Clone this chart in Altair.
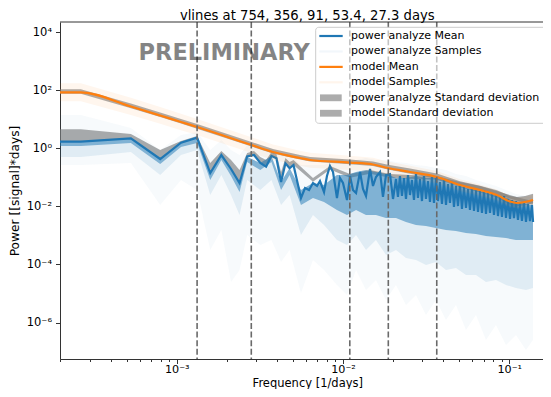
import altair as alt
import pandas as pd

# ---------------- data ----------------
periods = [754, 356, 91, 53.4, 27.3]

# model (orange)
model_freq = [1.987e-4, 2.652e-4, 5.304e-4, 7.956e-4, 1.061e-3, 1.326e-3, 2.76e-3, 3.79e-3,
              5.51e-3, 6.34e-3, 1.102e-2, 1.514e-2, 1.862e-2, 2.53e-2, 3.67e-2, 5.05e-2,
              6.67e-2, 8.43e-2, 0.1009, 0.1111, 0.1244, 0.1390]
model_mean = [84.8, 84.8, 27.5, 13.5, 8.05, 5.41, 1.35, 0.746, 0.463, 0.395, 0.324, 0.277,
              0.210, 0.153, 0.103, 0.0545, 0.0366, 0.0247, 0.0147, 0.0131, 0.0142, 0.0166]
model_std_hi = [108, 108, 35, 17.2, 10.3, 6.9, 1.72, 0.95, 0.59, 0.5, 0.41, 0.355, 0.27, 0.2,
                0.135, 0.074, 0.051, 0.036, 0.023, 0.021, 0.023, 0.027]
model_std_lo = [75, 75, 24.2, 11.9, 7.1, 4.76, 1.19, 0.66, 0.41, 0.35, 0.285, 0.244, 0.185,
                0.133, 0.089, 0.046, 0.03, 0.02, 0.0115, 0.0101, 0.011, 0.0128]
model_samp_hi = [175, 175, 55, 26.5, 15.5, 10.3, 2.5, 1.35, 0.82, 0.7, 0.56, 0.47, 0.35, 0.25,
                 0.165, 0.086, 0.057, 0.038, 0.0225, 0.02, 0.0215, 0.025]
model_samp_lo = [42, 42, 14, 7, 4.2, 2.85, 0.72, 0.4, 0.25, 0.215, 0.18, 0.155, 0.12, 0.09,
                 0.062, 0.034, 0.023, 0.016, 0.0097, 0.0087, 0.0095, 0.0111]

# power analyze mean (blue)
pa_freq = [1.987e-4, 2.652e-4, 5.304e-4, 7.956e-4, 1.061e-3, 1.326e-3, 1.591e-3, 1.856e-3,
           2.122e-3, 2.387e-3, 2.652e-3, 2.917e-3, 3.182e-3, 3.448e-3, 3.713e-3, 3.978e-3,
           4.243e-3, 4.508e-3, 4.774e-3, 5.039e-3, 5.59e-3, 5.91e-3, 6.25e-3, 6.60e-3,
           6.98e-3, 7.27e-3, 7.69e-3, 8.01e-3, 8.35e-3, 8.71e-3, 9.20e-3, 9.59e-3,
           1.00e-2, 1.057e-2, 1.102e-2, 1.148e-2, 1.198e-2, 1.266e-2, 1.319e-2, 1.375e-2,
           1.454e-2, 1.515e-2, 1.579e-2, 1.670e-2, 1.740e-2, 1.814e-2, 1.917e-2, 1.999e-2,
           2.083e-2,
           0.02141, 0.02201, 0.02263, 0.02327, 0.02392, 0.02459, 0.02528, 0.02599, 0.02672,
           0.02747, 0.02824, 0.02904, 0.02985, 0.03069, 0.03155, 0.03244, 0.03335, 0.03429,
           0.03525, 0.03624, 0.03726, 0.03830, 0.03938, 0.04048, 0.04162, 0.04279, 0.04399,
           0.04523, 0.04650, 0.04780, 0.04915, 0.05053, 0.05194, 0.05340, 0.05490, 0.05645,
           0.05803, 0.05966, 0.06134, 0.06306, 0.06483, 0.06665, 0.06852, 0.07045, 0.07242,
           0.07446, 0.07655, 0.07870, 0.08091, 0.08318, 0.08551, 0.08792, 0.09038, 0.09292,
           0.09553, 0.09821, 0.1010, 0.1038, 0.1067, 0.1097, 0.1128, 0.1159, 0.1192, 0.1225,
           0.1260, 0.1295, 0.1332, 0.1369, 0.1390]
pa_mean = [1.69, 1.69, 2.21, 0.428, 1.56, 2.32, 0.141, 0.588,
           0.194, 0.0638, 0.522, 0.588, 0.312, 0.232, 0.543, 0.453,
           0.0692, 0.304, 0.205, 0.266, 0.0195, 0.0430, 0.0366, 0.0638,
           0.0504, 0.0748, 0.0313, 0.111, 0.246, 0.153, 0.0195, 0.0949,
           0.0638, 0.0166, 0.111, 0.0366, 0.0289, 0.153, 0.0397, 0.0228,
           0.194, 0.0504, 0.1027, 0.153, 0.0211, 0.120, 0.130, 0.0180,
           0.0877,
           0.0211, 0.111, 0.0228, 0.0949, 0.0180, 0.120, 0.0247, 0.0810, 0.0166,
           0.130, 0.0195, 0.0877, 0.0153, 0.111, 0.0180, 0.0748, 0.0142, 0.1027,
           0.0131, 0.0949, 0.0153, 0.0692, 0.0121, 0.0810, 0.0112, 0.0590, 0.0131,
           0.0692, 0.00953, 0.0504, 0.0103, 0.0590, 0.00813, 0.0465, 0.0088, 0.0397,
           0.0075, 0.0430, 0.00693, 0.0366, 0.0064, 0.0339, 0.00592, 0.0366, 0.00547,
           0.0289, 0.00592, 0.0267, 0.00505, 0.0247, 0.00466, 0.0211, 0.00431, 0.0228,
           0.00398, 0.0180, 0.00368, 0.0166, 0.00398, 0.0153, 0.0034, 0.0131, 0.00314,
           0.0142, 0.0029, 0.0121, 0.00314, 0.0112, 0.0029]

# power analyze standard deviation (grey band)
pa_std_freq = [1.987e-4, 2.652e-4, 5.304e-4, 7.956e-4, 1.061e-3, 1.326e-3, 1.591e-3, 1.856e-3,
               2.122e-3, 2.387e-3, 2.652e-3, 2.917e-3, 3.182e-3, 3.448e-3, 3.713e-3, 3.978e-3,
               4.243e-3, 4.508e-3, 4.774e-3, 5.039e-3, 6.60e-3, 8.35e-3, 1.102e-2, 1.454e-2,
               1.917e-2, 2.529e-2, 3.623e-2, 5.052e-2, 6.664e-2, 8.793e-2, 0.1160, 0.1388]
pa_std_hi = [4.51, 4.51, 3.11, 0.874, 1.78, 2.65, 0.312, 0.807, 0.395, 0.179, 0.689, 0.807,
             0.501, 0.395, 0.746, 0.637, 0.153, 0.463, 0.338, 0.395, 0.0949, 0.246, 0.130,
             0.179, 0.130, 0.120, 0.111, 0.0692, 0.0504, 0.0313, 0.0195, 0.0153]
pa_std_lo = [1.69, 1.69, 2.21, 0.428, 1.56, 2.32, 0.141, 0.588, 0.194, 0.0638, 0.522, 0.588,
             0.312, 0.232, 0.543, 0.453, 0.0692, 0.304, 0.205, 0.266, 0.071, 0.185, 0.0975,
             0.134, 0.0975, 0.090, 0.083, 0.052, 0.038, 0.0235, 0.0146, 0.0115]

# power analyze samples: spread envelopes
samp_freq = [1.987e-4, 2.652e-4, 5.304e-4, 7.956e-4, 1.061e-3, 1.326e-3, 1.591e-3, 1.856e-3,
             2.122e-3, 2.387e-3, 2.652e-3, 3.182e-3, 3.713e-3, 4.243e-3, 4.774e-3, 5.59e-3,
             6.60e-3, 7.69e-3, 9.20e-3, 1.057e-2, 1.198e-2, 1.375e-2, 1.579e-2, 1.814e-2,
             2.083e-2, 2.392e-2, 2.748e-2, 3.156e-2, 3.623e-2, 4.163e-2, 4.780e-2, 5.490e-2,
             6.305e-2, 7.242e-2, 8.318e-2, 9.554e-2, 0.1097, 0.1260, 0.1388]
samp_top = [14.0, 14.0, 5.00, 0.874, 2.87, 3.64, 0.874, 1.93, 0.874, 0.588, 1.30, 0.874, 1.02,
            0.588, 0.588, 0.266, 0.266, 0.266, 0.395, 0.338, 0.395, 0.463, 0.395, 0.395, 0.338,
            0.312, 0.266, 0.246, 0.210, 0.179, 0.130, 0.111, 0.081, 0.0638, 0.0504, 0.0366,
            0.0267, 0.0228, 0.0195]
samp_core_top = [1.65, 1.65, 2.26, 0.428, 1.52, 2.26, 0.141, 0.588, 0.194, 0.0638, 0.502, 0.312,
                 0.543, 0.0692, 0.210, 0.0366, 0.0638, 0.0545, 0.120, 0.120, 0.153, 0.179, 0.153,
                 0.130, 0.0949, 0.0949, 0.111, 0.0949, 0.0949, 0.0692, 0.0545, 0.0430, 0.0366,
                 0.0289, 0.0247, 0.0195, 0.0142, 0.0121, 0.0112]
samp_dense_lo = [1.20, 1.20, 1.52, 0.288, 1.109, 1.52, 0.081, 0.395, 0.111, 0.0313, 0.338, 0.179,
                 0.338, 0.0366, 0.120, 0.0112, 0.0195, 0.0142, 0.0075, 0.00505, 0.0075, 0.00505,
                 0.00505, 0.00398, 0.00398, 0.0029, 0.00229, 0.00211, 0.0018, 0.00154, 0.00142,
                 0.00121, 0.00112, 0.000955, 0.000883, 0.000815, 0.000695, 0.000695, 0.000695]
samp_mid_lo = [0.502, 0.502, 0.746, 0.120, 0.588, 0.874, 0.0247, 0.120, 0.0247, 0.00505, 0.081,
               0.0366, 0.081, 0.0112, 0.0247, 0.00103, 0.00505, 0.00229, 0.000695, 0.000468,
               0.00103, 0.000315, 0.000695, 0.000212, 0.000315, 0.000167, 0.000143, 9.59e-5,
               0.000122, 6.45e-5, 7.57e-5, 4.34e-5, 4.34e-5, 2.49e-5, 2.92e-5, 1.96e-5, 1.55e-5,
               1.32e-5, 1.55e-5]
samp_faint_lo = [0.266, 0.266, 0.312, 0.0112, 0.081, 0.0366, 0.000315, 0.00154, 2.49e-5, 6.45e-5,
                 0.00103, 0.000468, 0.000695, 0.000122, 0.000315, 1.04e-5, 0.000143, 6.45e-5,
                 1.96e-5, 8.87e-6, 6.45e-5, 1.32e-5, 2.92e-5, 5.97e-6, 1.96e-5, 4.02e-6, 8.87e-6,
                 1.82e-6, 5.97e-6, 1.22e-6, 4.02e-6, 5.53e-7, 1.82e-6, 2.5e-7, 8.23e-7, 1.68e-7,
                 3.72e-7, 1.13e-7, 2.5e-7]

# axes ticks
x_major = [1e-3, 1e-2, 1e-1]
x_major_labels = ["10⁻³", "10⁻²", "10⁻¹"]
x_minor = [2e-4, 3e-4, 4e-4, 5e-4, 6e-4, 7e-4, 8e-4, 9e-4,
           2e-3, 3e-3, 4e-3, 5e-3, 6e-3, 7e-3, 8e-3, 9e-3,
           2e-2, 3e-2, 4e-2, 5e-2, 6e-2, 7e-2, 8e-2, 9e-2]
y_major = [1e-6, 1e-4, 1e-2, 1.0, 1e2, 1e4]
y_major_labels = ["10⁻⁶", "10⁻⁴", "10⁻²", "10⁰", "10²", "10⁴"]

legend_labels = ["power analyze Mean", "power analyze Samples", "model Mean",
                 "model Samples", "power analyze Standard deviation", "model Standard deviation"]

# ---------------- styling ----------------
BLUE = "#1f77b4"
ORANGE = "#ff7f0e"
GREY = "#808080"
FONT = "DejaVu Sans"
W, H = 483, 337   # visible plot area (the axes run off the right edge, as in the reference)

title_str = "vlines at " + ", ".join(f"{p:g}" for p in periods) + " days"


def label_expr(vals, labs):
    e = "".join(f"datum.value == {v!r} ? '{l}' : " for v, l in zip(vals, labs))
    return e + "''"


major_test = " || ".join(f"datum.value == {v!r}" for v in x_major)

xscale = alt.Scale(type="log", domain=[1.987e-4, 0.1595], nice=False)
yscale = alt.Scale(type="log", domain=[5.55e-8, 2.24e4], nice=False)

xaxis = alt.Axis(values=sorted(x_major + x_minor), labelExpr=label_expr(x_major, x_major_labels),
                 tickSize={"condition": {"test": major_test, "value": 4.5}, "value": 2.5},
                 labelFontSize=11.2, labelFont=FONT, labelColor="black",
                 labelBaseline="alphabetic", labelPadding=9, labelFlush=False,
                 labelOverlap=False, labelBound=False,
                 titleFontSize=11.5, titleFont=FONT, titleFontWeight="normal", titleColor="black",
                 titleBaseline="alphabetic", titleY=27.3, titleX=247.3, titleAlign="center",
                 grid=False, domainColor="#333333", tickColor="#333333", domainWidth=1, tickWidth=1)
yaxis = alt.Axis(values=y_major, labelExpr=label_expr(y_major, y_major_labels),
                 tickSize=4.5, labelPadding=4, labelFontSize=11.5, labelFont=FONT,
                 labelColor="black", labelBaseline="middle", labelOverlap=False, labelBound=False,
                 labelFlush=False,
                 titleFontSize=12.2, titleFont=FONT, titleFontWeight="normal", titleColor="black",
                 titleAngle=270, titleBaseline="middle", titleAlign="center", titleX=-45.5,
                 titleY=H / 2, grid=False, domainColor="#333333", tickColor="#333333",
                 domainWidth=1, tickWidth=1)
XT = "Frequency [1/days]"
YT = "Power [[signal]*days]"


def xenc():
    return alt.X("f:Q", scale=xscale, axis=xaxis, title=XT)


def yenc(field):
    return alt.Y(f"{field}:Q", scale=yscale, axis=yaxis, title=YT)


def band(df, lo, hi, color, opacity):
    return alt.Chart(df).mark_area(color=color, opacity=opacity, clip=True).encode(
        x=xenc(), y=yenc(lo), y2=alt.Y2(f"{hi}:Q"))


model_df = pd.DataFrame({"f": model_freq, "v": model_mean, "slo": model_std_lo,
                         "shi": model_std_hi, "plo": model_samp_lo, "phi": model_samp_hi})
pa_df = pd.DataFrame({"f": pa_freq, "v": pa_mean})
pastd_df = pd.DataFrame({"f": pa_std_freq, "lo": pa_std_lo, "hi": pa_std_hi})
samp_df = pd.DataFrame({"f": samp_freq, "top": samp_top, "ctop": samp_core_top,
                        "dlo": samp_dense_lo, "mlo": samp_mid_lo, "flo": samp_faint_lo})
vl_df = pd.DataFrame({"period": periods})
one = pd.DataFrame({"k": [0]})

layers = [
    band(pastd_df, "lo", "hi", GREY, 0.65),
    band(model_df, "slo", "shi", GREY, 0.65),
    band(samp_df, "flo", "top", BLUE, 0.035),
    band(samp_df, "mlo", "ctop", BLUE, 0.10),
    band(samp_df, "dlo", "ctop", BLUE, 0.50),
    alt.Chart(pa_df).mark_line(color=BLUE, strokeWidth=2.2, clip=True).encode(x=xenc(), y=yenc("v")),
    band(model_df, "plo", "phi", ORANGE, 0.07),
    alt.Chart(model_df).mark_line(color=ORANGE, strokeWidth=2.2, clip=True,
                                  interpolate="monotone").encode(x=xenc(), y=yenc("v")),
    alt.Chart(vl_df).transform_calculate(f="1 / datum.period").mark_rule(
        color="#6a6a6a", strokeWidth=1.6, strokeDash=[6, 2.6]).encode(x=xenc()),
    alt.Chart(one).mark_text(text="PRELIMINARY", font=FONT, fontSize=22.5, fontWeight="bold",
                             color="black", opacity=0.48, align="center",
                             baseline="alphabetic").encode(x=alt.value(164.2), y=alt.value(38.4)),
    alt.Chart(one).mark_rule(color="#333333", strokeWidth=1).encode(
        x=alt.value(0), x2=alt.value(W), y=alt.value(0)),
    alt.Chart(one).mark_text(text=title_str, font=FONT, fontSize=13.2, color="black",
                             align="center", baseline="alphabetic").encode(
        x=alt.value(247.3), y=alt.value(-1.8)),
    # legend box (its right side runs past the edge, like the reference)
    alt.Chart(one).mark_rect(fill="white", fillOpacity=0.6, stroke="#cccccc", strokeWidth=1,
                             cornerRadius=3).encode(
        x=alt.value(255.7), x2=alt.value(489.3), y=alt.value(5.3), y2=alt.value(101.3)),
]

legend_style = [("line", BLUE, 1.0), ("line", BLUE, 0.06), ("line", ORANGE, 1.0),
                ("line", ORANGE, 0.08), ("patch", GREY, 0.65), ("patch", GREY, 0.65)]
for i, (lab, (kind, col, op)) in enumerate(zip(legend_labels, legend_style)):
    ry = 14 + i * 15.45
    if kind == "line":
        layers.append(alt.Chart(one).mark_rule(color=col, strokeWidth=2.2, opacity=op).encode(
            x=alt.value(259.3), x2=alt.value(282.7), y=alt.value(ry)))
    else:
        layers.append(alt.Chart(one).mark_rect(color=col, opacity=op).encode(
            x=alt.value(260), x2=alt.value(281.7), y=alt.value(ry - 3.4), y2=alt.value(ry + 3.4)))
    layers.append(alt.Chart(one).mark_text(text=lab, font=FONT, fontSize=11, color="black",
                                           align="left", baseline="middle").encode(
        x=alt.value(291), y=alt.value(ry)))

chart = alt.layer(*layers).properties(
    width=W, height=H,
    padding={"left": 52, "top": 14, "right": 0, "bottom": 30},
    autosize=alt.AutoSizeParams(type="none"),
).configure_view(strokeWidth=0)

chart.save("out.html", embed_options={"renderer": "svg", "actions": False})
